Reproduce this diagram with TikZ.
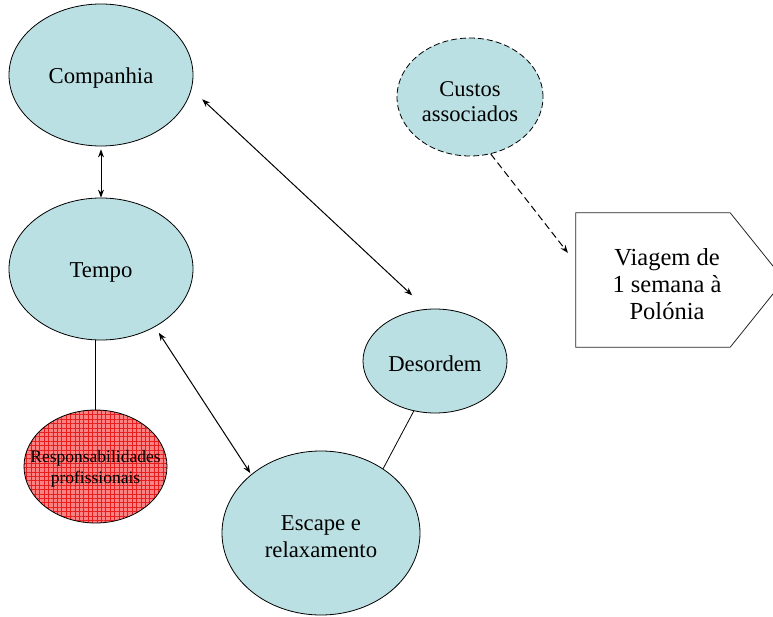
\documentclass[tikz,border=0pt]{standalone}
\usepackage{fontspec}
\setmainfont{Liberation Serif}
\usetikzlibrary{arrows.meta,patterns.meta,calc,shapes.geometric}
\definecolor{bubble}{RGB}{187,224,227}
\definecolor{redfill}{RGB}{250,130,130}
\definecolor{redgrid}{RGB}{232,30,30}
\begin{document}
\begin{tikzpicture}[x=1pt,y=-1pt,
  bub/.style={ellipse, draw=black, line width=0.8pt, fill=bubble, inner sep=0pt},
  txt/.style={align=center, inner sep=0pt, font=\fontsize{22.7}{27}\selectfont},
  tip/.tip={Stealth[length=8pt,width=6pt]},
  link/.style={line width=1pt, tip-tip},
  plainline/.style={line width=0.8pt},
  dashlink/.style={line width=1pt, dash pattern=on 7pt off 4pt, -tip}
]
\useasboundingbox (0,0) rectangle (773,617);
\clip (0,0) rectangle (773,617);

% ellipses
\node[bub, minimum width=184pt, minimum height=142pt] (comp) at (101,75) {};
\node[bub, minimum width=184pt, minimum height=142pt] (tempo) at (101,269) {};
\node[ellipse, draw=black, line width=0.8pt, inner sep=0pt,
      preaction={fill=redfill},
      pattern={Hatch[distance=4.4pt,line width=0.5pt]}, pattern color=redgrid,
      minimum width=143pt, minimum height=113pt] (resp) at (95.5,466.5) {};
\node[bub, minimum width=144pt, minimum height=104pt] (des) at (435,361) {};
\node[bub, minimum width=198pt, minimum height=164pt] (esc) at (321,533) {};
\node[bub, dash pattern=on 6pt off 3pt, minimum width=146pt, minimum height=118pt] (cus) at (470,97) {};

% pentagon
\node[minimum width=154pt, minimum height=134pt, inner sep=0pt] (vibox) at (653,280) {};
\draw[line width=0.8pt, draw=black!85, fill=white]
  (vibox.north west) -- (vibox.north east) -- ($(vibox.east)+(54,0)$)
  -- (vibox.south east) -- (vibox.south west) -- cycle;

% texts
\node[txt] (compt) at (101,78) {Companhia};
\node[txt] (tempot) at (101,272) {Tempo};
\node[txt, font=\fontsize{17.5}{21}\selectfont] (respt) at (95.5,469) {Responsabilidades\\profissionais};
\node[txt] (dest) at (435,364) {Desordem};
\node[txt] (esct) at (321,537) {Escape e\\relaxamento};
\node[txt, font=\fontsize{22.5}{25}\selectfont] (cust) at (470,102) {Custos\\associados};
\node[txt, font=\fontsize{24.5}{26.7}\selectfont] (vit) at (667,284) {Viagem de\\1 semana à\\Polónia};

% connectors
\draw[link, shorten <=3pt] (comp.south) -- (tempo.north);
\draw[link, shorten <=14.6pt, shorten >=20pt] (comp.-9) -- (des.99);
\draw[link, shorten <=7pt, shorten >=1.5pt] (tempo.-47.5) -- (esc.140);
\draw[plainline] (tempo.south -| resp.north) -- (resp.north);
\draw[plainline] (des.247) -- (esc.46);
\draw[dashlink, shorten >=12.8pt] (cus.-70.6) -- ($(vibox.west)+(0,-17)$);
\end{tikzpicture}
\end{document}
